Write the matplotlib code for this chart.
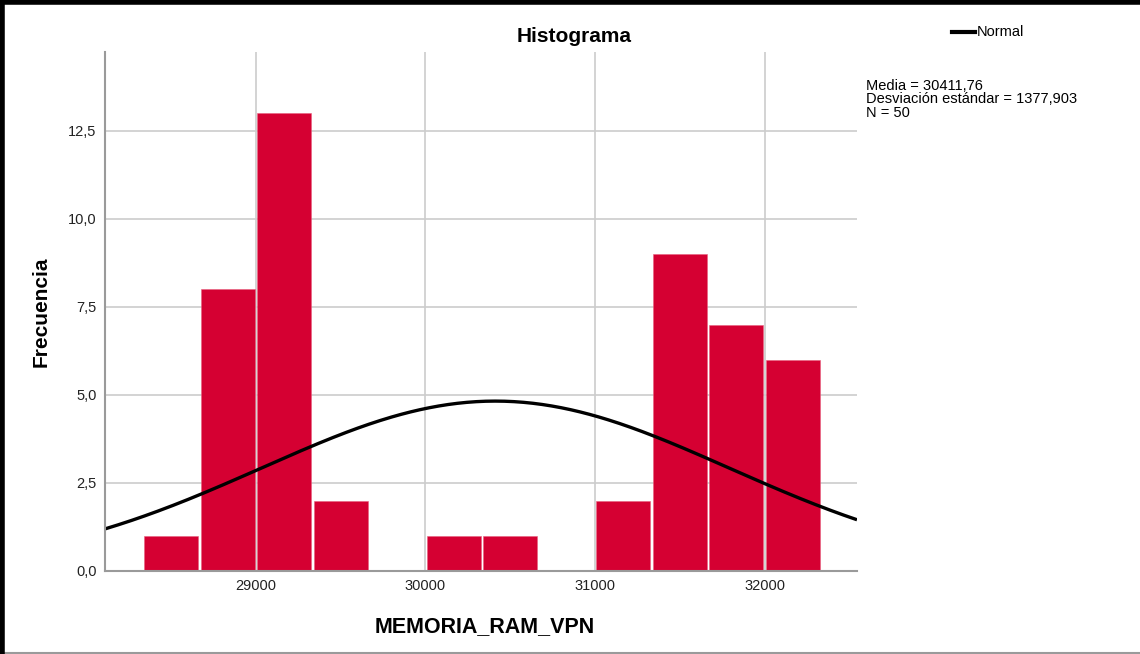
import numpy as np
import matplotlib.pyplot as plt
from matplotlib.lines import Line2D

plt.rcParams['font.family'] = ['Liberation Sans', 'DejaVu Sans']

# histogram data (bins of width 333.33)
bin_lefts = [28333.33, 28666.67, 29000.00, 29333.33, 29666.67, 30000.00,
             30333.33, 30666.67, 31000.00, 31333.33, 31666.67, 32000.00]
bin_width = 333.33
counts = [1, 8, 13, 2, 0, 1, 1, 0, 2, 9, 7, 6]

media = 30411.76
desv = 1377.903
n = 50

x_ticks = [29000, 30000, 31000, 32000]
y_ticks = [0, 2.5, 5.0, 7.5, 10.0, 12.5]

bar_color = "#d50032"
grid_color = "#cccccc"
spine_color = "#9a9a9a"

fig = plt.figure(figsize=(11.4, 6.54), dpi=100, facecolor="white")
ax = fig.add_axes([105/1140, 83/654, 752/1140, 519/654])

centers = [b + bin_width/2 for b in bin_lefts]
ax.bar(centers, counts, width=bin_width*0.955, color=bar_color,
       edgecolor="#e8607e", linewidth=0.4, zorder=3)

# normal curve scaled to the counts
xs = np.linspace(28110, 32545, 400)
ys = n*bin_width/(desv*np.sqrt(2*np.pi))*np.exp(-0.5*((xs - media)/desv)**2)
ax.plot(xs, ys, color="black", lw=2.4, zorder=4, solid_capstyle="butt")

ax.set_xlim(28110, 32545)
ax.set_ylim(0, 14.74)
ax.set_xticks(x_ticks)
ax.set_xticklabels([str(t) for t in x_ticks], fontsize=10.5)
ax.set_yticks(y_ticks)
ax.set_yticklabels([f"{t:.1f}".replace(".", ",") for t in y_ticks], fontsize=10.5)
ax.tick_params(length=0, pad=6, colors="#222222")
ax.grid(True, color=grid_color, lw=1.2, zorder=0)
ax.set_axisbelow(True)

for s in ["top", "right"]:
    ax.spines[s].set_visible(False)
for s in ["left", "bottom"]:
    ax.spines[s].set_color(spine_color)
    ax.spines[s].set_linewidth(1.5)
    ax.spines[s].set_zorder(5)

fig.text(574/1140, 1 - 37/654, "Histograma", ha="center", va="center",
         fontsize=15, fontweight="bold")
fig.text(485/1140, 1 - 627/654, "MEMORIA_RAM_VPN", ha="center", va="center",
         fontsize=15.5, fontweight="bold")
fig.text(41/1140, 1 - 312/654, "Frecuencia", ha="center", va="center",
         rotation=90, fontsize=15, fontweight="bold")

# legend and stats on the right
fig.add_artist(Line2D([952/1140, 975/1140], [1 - 32/654, 1 - 32/654],
                      color="black", lw=3, transform=fig.transFigure))
fig.text(977/1140, 1 - 32/654, "Normal", ha="left", va="center", fontsize=10.5)
stats = (f"Media = {media:.2f}".replace(".", ",") + "\n" +
         f"Desviación estándar = {desv:.3f}".replace(".", ",") + "\n" +
         f"N = {n}")
fig.text(866/1140, 1 - 79/654, stats, ha="left", va="top", fontsize=10.5,
         linespacing=0.95)

# frame: thick black top/left, thin grey bottom
fig.add_artist(Line2D([0, 1], [1/654, 1/654], color="#9a9a9a", lw=1.5,
                      transform=fig.transFigure))
fig.add_artist(Line2D([0, 1], [1 - 2/654, 1 - 2/654], color="black", lw=4,
                      transform=fig.transFigure))
fig.add_artist(Line2D([2/1140, 2/1140], [0, 1], color="black", lw=4,
                      transform=fig.transFigure))

fig.savefig("out.png", dpi=100, facecolor="white")
